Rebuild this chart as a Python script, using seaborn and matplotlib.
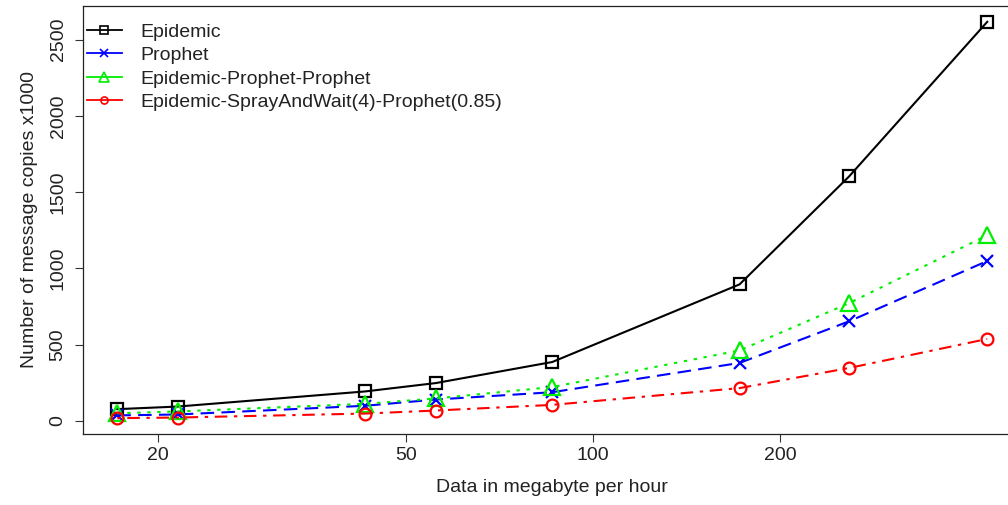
import matplotlib
matplotlib.use("Agg")
import matplotlib.pyplot as plt
from matplotlib.lines import Line2D
from matplotlib.ticker import FixedLocator, FixedFormatter, NullLocator
import seaborn as sns
import pandas as pd
import numpy as np

# ---- data ----
data_rate = [17.2, 21.5, 43, 55.9, 86, 172, 258, 430]
epidemic = [77, 94, 193, 248, 386, 895, 1603, 2616]
prophet = [36, 42, 99, 140, 188, 380, 653, 1048]
epi_prophet_prophet = [50, 62, 112, 147, 222, 462, 772, 1217]
epi_spray_prophet = [18, 22, 48, 68, 105, 215, 347, 537]

series_names = ["Epidemic", "Prophet", "Epidemic-Prophet-Prophet",
                "Epidemic-SprayAndWait(4)-Prophet(0.85)"]
x_ticks = [20, 50, 100, 200]
x_tick_labels = ["20", "50", "100", "200"]
y_ticks = [0, 500, 1000, 1500, 2000, 2500]
y_tick_labels = ["0", "500", "1000", "1500", "2000", "2500"]

plt.rcParams["font.family"] = ["Liberation Sans", "DejaVu Sans"]
FS = 14

W, H = 1008, 505
fig = plt.figure(figsize=(W / 100, H / 100), dpi=100)
ax_left, ax_right, ax_top, ax_bottom = 82.5, 1022, 6, 434
ax = fig.add_axes([ax_left / W, 1 - ax_bottom / H,
                   (ax_right - ax_left) / W, (ax_bottom - ax_top) / H])

values = [epidemic, prophet, epi_prophet_prophet, epi_spray_prophet]
colors = ["black", "blue", "#00ee00", "red"]
markers = ["s", "x", "^", "o"]
msizes = [9, 9, 11.5, 8.5]
dash_styles = [None, (6.5, 3.5), (1.6, 3.2), (1.6, 3.2, 6, 3.2)]

for name, vals, c, m, ms, ds in zip(series_names, values, colors, markers, msizes, dash_styles):
    df = pd.DataFrame({"x": data_rate, "y": vals})
    n_before = len(ax.lines)
    sns.lineplot(data=df, x="x", y="y", ax=ax, color=c, marker=m,
                 markersize=ms, markerfacecolor="none", markeredgecolor=c,
                 markeredgewidth=1.6, linewidth=1.5, legend=False)
    line = ax.lines[n_before]
    if ds is not None:
        line.set_dashes(ds)

ax.set_xscale("log")
lx = np.log10(data_rate)
pad = 0.04 * (lx.max() - lx.min())
ax.set_xlim(10 ** (lx.min() - pad), 10 ** (lx.max() + pad))
allv = np.concatenate([np.array(v) for v in values])
ypad = 0.04 * (allv.max() - allv.min())
ax.set_ylim(allv.min() - ypad, allv.max() + ypad)

ax.xaxis.set_major_locator(FixedLocator(x_ticks))
ax.xaxis.set_major_formatter(FixedFormatter(x_tick_labels))
ax.xaxis.set_minor_locator(NullLocator())
ax.yaxis.set_major_locator(FixedLocator(y_ticks))
ax.yaxis.set_major_formatter(FixedFormatter(y_tick_labels))

ax.tick_params(axis="both", direction="out", length=6, width=0.8,
               labelsize=FS, colors="#333333", labelcolor="#222222")
ax.tick_params(axis="x", pad=3.0)
ax.tick_params(axis="y", pad=5.5)
for lab in ax.get_yticklabels():
    lab.set_rotation(90)
    lab.set_va("center")

for sp in ax.spines.values():
    sp.set_linewidth(0.9)
    sp.set_color("#222222")
ax.spines["right"].set_visible(False)

ax.set_xlabel("Data in megabyte per hour", fontsize=FS, color="#222222")
ax.set_ylabel("Number of message copies x1000", fontsize=FS, color="#222222")
axw = ax_right - ax_left
axh = ax_bottom - ax_top
ax.xaxis.set_label_coords(0.5, (ax_bottom - 479) / axh)
ax.yaxis.set_label_coords((38 - ax_left) / axw, 0.5)

handles = [Line2D([], [], color=c, marker=m, markersize=ms * 0.6,
                  markerfacecolor="none", markeredgecolor=c,
                  markeredgewidth=1.2, linewidth=1.3)
           for c, m, ms in zip(colors, markers, msizes)]
leg = ax.legend(handles, series_names, loc="upper left",
                bbox_to_anchor=(87 / W, 1 - 23 / H), bbox_transform=fig.transFigure,
                frameon=False, fontsize=FS, handlelength=1.78, handletextpad=0.95,
                labelspacing=0.3, borderaxespad=0, borderpad=0)
for t in leg.get_texts():
    t.set_color("#222222")

fig.savefig("out.png", dpi=100)
